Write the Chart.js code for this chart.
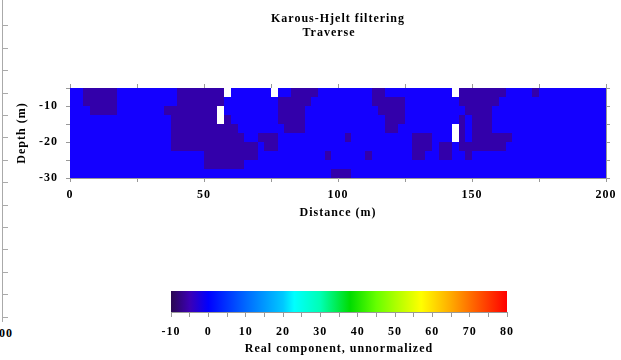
<!DOCTYPE html>
<html lang="en">
<head>
<meta charset="UTF-8">
<title>Karous-Hjelt filtering</title>
<script src="https://cdn.jsdelivr.net/npm/chart.js"></script>
<style>
  body { margin: 0; background: #fff; width: 621px; height: 360px; overflow: hidden; position: relative; }
  #main { position: absolute; left: 0; top: 0; }
  #bar { position: absolute; left: 0; top: 280px; }
  .edge {
    position: absolute; left: 2px; top: 0; width: 5px; height: 322px;
    border-left: 1px solid #aaa;
    background: repeating-linear-gradient(to bottom, transparent 0, transparent 21.4px, #aaa 21.4px, #aaa 22.4px);
    background-position: 0 4px;
  }
  .edge-label { position: absolute; left: -1px; top: 326px; font: bold 12px 'Liberation Serif', serif; letter-spacing: 1px; }
</style>
</head>
<body>
  <div class="edge"></div>
  <div class="edge-label">00</div>
  <canvas id="main" width="621" height="225"></canvas>
  <canvas id="bar" width="621" height="80"></canvas>

  <script>
    // grid: rows go down in depth, columns every 2.5 m along the traverse
    const depthTops = [-5, -7.5, -10, -12.5, -15, -17.5, -20, -22.5, -25, -27.5];
    const cellDepth = 2.5;
    const cellWidth = 2.5;

    // real component values, one array per depth row (null = blank)
    const row0 = [2,2,-3,-3,-3,-3,-3,2,2,2, 2,2,2,2,2,2,-3,-3,-3,-3, -3,-3,-3,null,2,2,2,2,2,2, null,2,2,-3,-3,-3,-3,2,2,2,
                  2,2,2,2,2,-3,-3,2,2,2, 2,2,2,2,2,2,2,null,-3,-3, -3,-3,-3,-3,-3,2,2,2,2,-3, 2,2,2,2,2,2,2,2,2,2];
    const row1 = [2,2,-3,-3,-3,-3,-3,2,2,2, 2,2,2,2,2,2,-3,-3,-3,-3, -3,-3,-3,2,2,2,2,2,2,2, 2,-3,-3,-3,-3,-3,2,2,2,2,
                  2,2,2,2,2,-3,-3,-3,-3,-3, 2,2,2,2,2,2,2,2,-3,-3, -3,-3,-3,-3,2,2,2,2,2,2, 2,2,2,2,2,2,2,2,2,2];
    const row2 = [2,2,2,-3,-3,-3,-3,2,2,2, 2,2,2,2,-3,-3,-3,-3,-3,-3, -3,-3,null,2,2,2,2,2,2,2, 2,-3,-3,-3,-3,2,2,2,2,2,
                  2,2,2,2,2,2,-3,-3,-3,-3, 2,2,2,2,2,2,2,2,2,-3, -3,-3,-3,2,2,2,2,2,2,2, 2,2,2,2,2,2,2,2,2,2];
    const row3 = [2,2,2,2,2,2,2,2,2,2, 2,2,2,2,2,-3,-3,-3,-3,-3, -3,-3,null,-3,2,2,2,2,2,2, 2,-3,-3,-3,-3,2,2,2,2,2,
                  2,2,2,2,2,2,2,-3,-3,-3, 2,2,2,2,2,2,2,2,-3,2, -3,-3,-3,2,2,2,2,2,2,2, 2,2,2,2,2,2,2,2,2,2];
    const row4 = [2,2,2,2,2,2,2,2,2,2, 2,2,2,2,2,-3,-3,-3,-3,-3, -3,-3,-3,-3,-3,2,2,2,2,2, 2,2,-3,-3,-3,2,2,2,2,2,
                  2,2,2,2,2,2,2,-3,-3,2, 2,2,2,2,2,2,2,null,-3,2, -3,-3,-3,2,2,2,2,2,2,2, 2,2,2,2,2,2,2,2,2,2];
    const row5 = [2,2,2,2,2,2,2,2,2,2, 2,2,2,2,2,-3,-3,-3,-3,-3, -3,-3,-3,-3,-3,-3,2,2,-3,-3, -3,2,2,2,2,2,2,2,2,2,
                  2,-3,2,2,2,2,2,2,2,2, 2,-3,-3,-3,2,2,2,null,-3,2, -3,-3,-3,-3,-3,-3,2,2,2,2, 2,2,2,2,2,2,2,2,2,2];
    const row6 = [2,2,2,2,2,2,2,2,2,2, 2,2,2,2,2,-3,-3,-3,-3,-3, -3,-3,-3,-3,-3,-3,-3,-3,2,-3, -3,2,2,2,2,2,2,2,2,2,
                  2,2,2,2,2,2,2,2,2,2, 2,-3,-3,-3,2,-3,-3,2,-3,-3, -3,-3,-3,-3,-3,2,2,2,2,2, 2,2,2,2,2,2,2,2,2,2];
    const row7 = [2,2,2,2,2,2,2,2,2,2, 2,2,2,2,2,2,2,2,2,2, -3,-3,-3,-3,-3,-3,-3,-3,2,2, 2,2,2,2,2,2,2,2,-3,2,
                  2,2,2,2,-3,2,2,2,2,2, 2,-3,-3,2,2,-3,-3,2,2,-3, 2,2,2,2,2,2,2,2,2,2, 2,2,2,2,2,2,2,2,2,2];
    const row8 = [2,2,2,2,2,2,2,2,2,2, 2,2,2,2,2,2,2,2,2,2, -3,-3,-3,-3,-3,-3,2,2,2,2, 2,2,2,2,2,2,2,2,2,2,
                  2,2,2,2,2,2,2,2,2,2, 2,2,2,2,2,2,2,2,2,2, 2,2,2,2,2,2,2,2,2,2, 2,2,2,2,2,2,2,2,2,2];
    const row9 = [2,2,2,2,2,2,2,2,2,2, 2,2,2,2,2,2,2,2,2,2, 2,2,2,2,2,2,2,2,2,2, 2,2,2,2,2,2,2,2,2,-3,
                  -3,-3,2,2,2,2,2,2,2,2, 2,2,2,2,2,2,2,2,2,2, 2,2,2,2,2,2,2,2,2,2, 2,2,2,2,2,2,2,2,2,2];
    const grid = [row0, row1, row2, row3, row4, row5, row6, row7, row8, row9];

    const xLabels = [0, 50, 100, 150, 200];
    const depthLabels = [-10, -20, -30];
    const barLabels = [-10, 0, 10, 20, 30, 40, 50, 60, 70, 80];
    const barStops = [-10, -5, 0, 10, 20, 23, 30, 38, 45, 50, 57, 65, 70, 80];
    const barColors = ['#2a0852', '#3c00b4', '#0000ff', '#0068ff', '#00c8ff', '#00ffff', '#00ffb4', '#00dc00',
                       '#66ff00', '#aaff00', '#ffff00', '#ffaa00', '#ff7000', '#ff0000'];
    const titleLines = ['Karous-Hjelt filtering', 'Traverse'];

    // contour bands: below 0 purple, 0..5 blue
    function bandColor(v) {
      if (v === null) return '#ffffff';
      return v < 0 ? '#3300aa' : '#1400ff';
    }

    const font = { family: "'Liberation Serif', serif", size: 12, weight: 'bold' };
    const gray = '#999';

    const spacing = {
      id: 'spacing',
      beforeDraw(chart) { chart.ctx.letterSpacing = '1px'; }
    };

    const cells = {
      id: 'cells',
      beforeDatasetsDraw(chart) {
        const { ctx, scales: { x, y } } = chart;
        ctx.save();
        grid.forEach((row, r) => {
          const y0 = Math.round(y.getPixelForValue(depthTops[r]));
          const y1 = Math.round(y.getPixelForValue(depthTops[r] - cellDepth));
          row.forEach((v, c) => {
            const x0 = Math.round(x.getPixelForValue(c * cellWidth));
            const x1 = Math.round(x.getPixelForValue((c + 1) * cellWidth));
            ctx.fillStyle = bandColor(v);
            ctx.fillRect(x0, y0, x1 - x0, y1 - y0);
          });
        });
        ctx.restore();
      }
    };

    const heading = {
      id: 'heading',
      afterDraw(chart) {
        const { ctx, chartArea } = chart;
        const cx = (chartArea.left + chartArea.right) / 2;
        ctx.save();
        ctx.font = "bold 12px 'Liberation Serif', serif";
        ctx.letterSpacing = '1px';
        ctx.fillStyle = '#000';
        ctx.textAlign = 'center';
        ctx.textBaseline = 'middle';
        ctx.fillText(titleLines[0], cx, 19);
        ctx.fillText(titleLines[1], cx - 9, 33);
        ctx.restore();
      }
    };

    const axisGrid = { drawOnChartArea: false, tickLength: 4, color: gray };

    new Chart(document.getElementById('main'), {
      type: 'scatter',
      data: { datasets: [] },
      plugins: [spacing, cells, heading],
      options: {
        responsive: false,
        animation: false,
        devicePixelRatio: 1,
        layout: { padding: { top: 84, right: 11, left: 0, bottom: 0 } },
        plugins: { legend: { display: false }, tooltip: { enabled: false } },
        scales: {
          x: {
            type: 'linear', position: 'bottom', min: 0, max: 200, z: 1,
            ticks: { stepSize: 25, autoSkip: false, maxRotation: 0, padding: 6, color: '#000', font,
                     callback: v => xLabels.includes(v) ? v : '' },
            grid: axisGrid,
            border: { color: gray },
            title: { display: true, text: 'Distance (m)', color: '#000', font, padding: { top: 0, bottom: 5 } },
            afterFit: s => { s.height = 47; }
          },
          x2: {
            type: 'linear', position: 'top', min: 0, max: 200, z: 1,
            ticks: { stepSize: 25, display: false },
            grid: axisGrid,
            border: { color: gray },
            afterFit: s => { s.height = 4; }
          },
          y: {
            type: 'linear', position: 'left', min: -30, max: -5, z: 1,
            ticks: { stepSize: 5, autoSkip: false, padding: 8, color: '#000', font,
                     callback: v => depthLabels.includes(v) ? v : '' },
            grid: axisGrid,
            border: { color: gray },
            title: { display: true, text: 'Depth (m)', color: '#000', font, padding: { top: 15, bottom: 0 } },
            afterFit: s => { s.width = 70; }
          },
          y2: {
            type: 'linear', position: 'right', min: -30, max: -5, z: 1,
            ticks: { stepSize: 5, display: false },
            grid: axisGrid,
            border: { color: gray },
            afterFit: s => { s.width = 4; }
          }
        }
      }
    });

    const ramp = {
      id: 'ramp',
      beforeDatasetsDraw(chart) {
        const { ctx, chartArea, scales: { x } } = chart;
        const x0 = x.getPixelForValue(barStops[0]);
        const x1 = x.getPixelForValue(barStops[barStops.length - 1]);
        const g = ctx.createLinearGradient(x0, 0, x1, 0);
        barStops.forEach((s, i) => g.addColorStop((x.getPixelForValue(s) - x0) / (x1 - x0), barColors[i]));
        ctx.save();
        ctx.fillStyle = g;
        ctx.fillRect(chartArea.left, chartArea.top, chartArea.right - chartArea.left, chartArea.bottom - chartArea.top);
        ctx.restore();
      }
    };

    new Chart(document.getElementById('bar'), {
      type: 'scatter',
      data: { datasets: [] },
      plugins: [spacing, ramp],
      options: {
        responsive: false,
        animation: false,
        devicePixelRatio: 1,
        layout: { padding: { top: 11, left: 171, right: 114, bottom: 0 } },
        plugins: { legend: { display: false }, tooltip: { enabled: false } },
        scales: {
          x: {
            type: 'linear', position: 'bottom', min: -10, max: 80, z: 1,
            ticks: { stepSize: 5, autoSkip: false, maxRotation: 0, padding: 8, color: '#000', font,
                     callback: v => barLabels.includes(v) ? v : '' },
            grid: { drawOnChartArea: false, tickLength: 5, color: gray },
            border: { color: gray },
            title: { display: true, text: 'Real component, unnormalized', color: '#000', font, padding: { top: 0, bottom: 4 } },
            afterFit: s => { s.height = 48; }
          },
          y: { display: false, min: 0, max: 1 }
        }
      }
    });
  </script>
</body>
</html>
